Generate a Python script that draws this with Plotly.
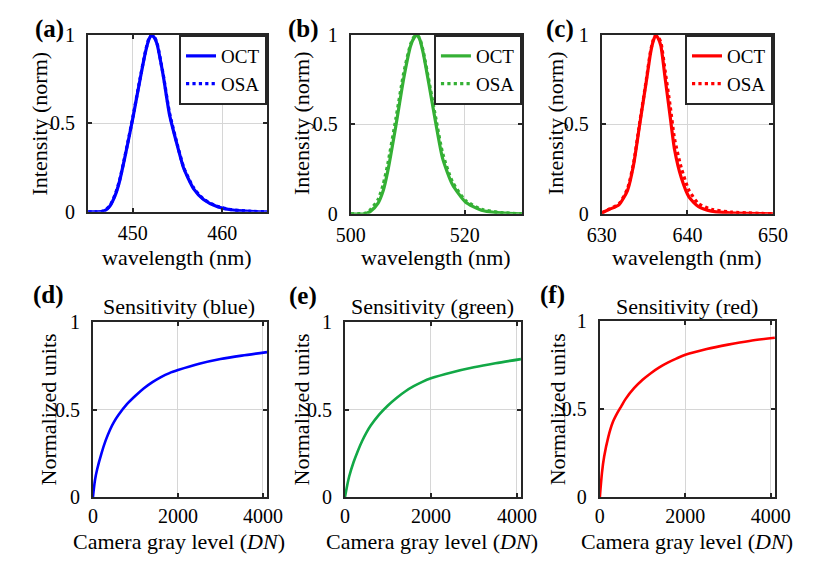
import plotly.graph_objects as go

# ---------------- data ----------------
# Emission spectra (normalized intensity vs wavelength in nm)
blue_nm = [445, 446, 446.8, 447.4, 448.0, 448.5, 449.2, 450.0, 450.7, 451.4, 451.8,
           452.1, 452.4, 452.7, 453.4, 454.1, 455.0, 455.7, 456.8, 457.9, 459.4,
           460.8, 463.0, 465]
blue_oct = [0, 0, 0.005, 0.03, 0.09, 0.17, 0.33, 0.53, 0.72, 0.9, 0.975,
            1.0, 0.985, 0.95, 0.77, 0.55, 0.37, 0.245, 0.13, 0.07, 0.03,
            0.013, 0.003, 0]
blue_osa = [0, 0, 0.006, 0.032, 0.095, 0.175, 0.335, 0.535, 0.725, 0.905, 0.98,
            1.0, 0.99, 0.955, 0.775, 0.56, 0.375, 0.25, 0.135, 0.072, 0.032,
            0.014, 0.004, 0]

green_nm = [500, 502.5, 503.5, 504.8, 505.7, 506.5, 507.9, 509.3, 510.5, 511.1,
            511.6, 512.1, 512.7, 513.9, 515.0, 516.1, 517.8, 520.1, 522.9, 526.3, 530]
green_oct = [0, 0, 0.015, 0.06, 0.13, 0.24, 0.49, 0.76, 0.94, 0.985,
             1.0, 0.975, 0.9, 0.69, 0.49, 0.31, 0.165, 0.066, 0.02, 0.005, 0]
green_osa = [0, 0.003, 0.025, 0.08, 0.165, 0.28, 0.53, 0.79, 0.95, 0.99,
             1.0, 0.98, 0.91, 0.71, 0.52, 0.34, 0.18, 0.075, 0.025, 0.007, 0]

red_nm = [630, 630.9, 632.0, 633.0, 633.7, 634.4, 635.2, 635.7, 636.0, 636.3, 636.6,
          636.9, 637.4, 638.0, 638.5, 639.3, 640.2, 641.3, 642.8, 645, 650]
red_oct = [0.005, 0.025, 0.05, 0.13, 0.27, 0.49, 0.74, 0.9, 0.965, 1.0, 0.98,
           0.94, 0.76, 0.54, 0.36, 0.2, 0.093, 0.04, 0.015, 0.005, 0]
red_osa = [0.005, 0.027, 0.055, 0.14, 0.28, 0.5, 0.75, 0.91, 0.97, 1.0, 0.99,
           0.96, 0.8, 0.6, 0.42, 0.255, 0.13, 0.057, 0.025, 0.01, 0]

# Sensitivity curves (normalized units vs camera gray level in DN)
dn_levels = [0, 50, 100, 200, 300, 400, 500, 600, 800, 1000, 1200, 1400, 1600,
             1800, 2000, 2500, 3000, 3500, 4095]
sens_blue = [0, 0.1, 0.16, 0.25, 0.325, 0.385, 0.432, 0.47, 0.532, 0.58, 0.623,
             0.658, 0.687, 0.71, 0.727, 0.763, 0.79, 0.81, 0.83]
sens_green = [0, 0.065, 0.12, 0.2, 0.265, 0.322, 0.37, 0.41, 0.474, 0.525, 0.568,
              0.605, 0.635, 0.66, 0.68, 0.715, 0.743, 0.766, 0.79]
sens_red = [0, 0.14, 0.23, 0.345, 0.425, 0.475, 0.517, 0.558, 0.62, 0.668, 0.707,
            0.74, 0.767, 0.79, 0.81, 0.843, 0.868, 0.889, 0.907]

# axis ranges and ticks
spec_ranges = [[445, 465], [500, 530], [630, 650]]
spec_ticks = [[450, 460], [500, 520], [630, 640, 650]]
dn_range = [0, 4095]
dn_ticks = [0, 2000, 4000]
y_ticks = [0, 0.5, 1]
y_ticktext = ["0", "0.5", "1"]

panel_tags = ["(a)", "(b)", "(c)", "(d)", "(e)", "(f)"]
sens_titles = ["Sensitivity (blue)", "Sensitivity (green)", "Sensitivity (red)"]

# ---------------- styling ----------------
W, H = 814, 564
FONT = "Liberation Serif"
FS = 22        # axis titles
FS_TICK = 20   # tick labels
BLUE = "#0000ff"
GREEN_SPEC = "#35b035"
GREEN_SENS = "#12a846"
RED = "#ff0000"
AXIS_COLOR = "#262626"
GRID_COLOR = "#d6d6d6"

# plot-area boxes in pixels: left, right, top, bottom
boxes = [
    (76, 262, 25, 209),
    (349, 527, 25, 211),
    (610, 788, 25, 211),
    (81, 262, 324, 506),
    (343, 526, 324, 506),
    (608, 790, 323, 506),
]


def px_x(v):
    return v / W


def px_y(v):
    return 1 - v / H


fig = go.Figure()

spec_sets = [
    (blue_nm, blue_oct, blue_osa, BLUE),
    (green_nm, green_oct, green_osa, GREEN_SPEC),
    (red_nm, red_oct, red_osa, RED),
]
for i, (wl, oct_v, osa_v, col) in enumerate(spec_sets):
    ax = "" if i == 0 else str(i + 1)
    leg = "legend" if i == 0 else f"legend{i + 1}"
    fig.add_trace(go.Scatter(
        x=wl, y=oct_v, mode="lines", name="OCT",
        line=dict(color=col, width=3.2, shape="spline", smoothing=0.6),
        xaxis="x" + ax, yaxis="y" + ax, legend=leg))
    fig.add_trace(go.Scatter(
        x=wl, y=osa_v, mode="lines", name="OSA",
        line=dict(color=col, width=3.2, dash="dot", shape="spline", smoothing=0.6),
        xaxis="x" + ax, yaxis="y" + ax, legend=leg))

sens_sets = [(sens_blue, BLUE), (sens_green, GREEN_SENS), (sens_red, RED)]
for j, (s, col) in enumerate(sens_sets):
    k = j + 4
    fig.add_trace(go.Scatter(
        x=dn_levels, y=s, mode="lines", showlegend=False,
        line=dict(color=col, width=2.6, shape="spline", smoothing=0.8),
        xaxis=f"x{k}", yaxis=f"y{k}"))

axis_common = dict(
    showline=True, linecolor=AXIS_COLOR, linewidth=2, mirror="ticks",
    ticks="inside", ticklen=4, tickwidth=1.5, tickcolor=AXIS_COLOR,
    showgrid=True, gridcolor=GRID_COLOR, gridwidth=1, zeroline=False,
    tickfont=dict(family=FONT, size=FS_TICK, color="black"),
    fixedrange=True,
)

layout = dict(
    width=W, height=H,
    margin=dict(l=0, r=0, t=0, b=0),
    paper_bgcolor="white", plot_bgcolor="white",
    font=dict(family=FONT, size=FS, color="black"),
    annotations=[],
)

for n, (l, r, t, b) in enumerate(boxes):
    k = "" if n == 0 else str(n + 1)
    if n < 3:
        xr, xt, sx = spec_ranges[n], spec_ticks[n], 2
    else:
        xr, xt, sx = dn_range, dn_ticks, 0
    layout["xaxis" + k] = dict(
        axis_common, domain=[px_x(l), px_x(r)], range=xr, tickvals=xt,
        anchor="y" + k, ticklabelstandoff=sx)
    layout["yaxis" + k] = dict(
        axis_common, domain=[px_y(b), px_y(t)], range=[0, 1],
        tickvals=y_ticks, ticktext=y_ticktext, anchor="x" + k,
        ticklabelstandoff=7)

# legends in the top-right corner of each spectrum panel
for n in range(3):
    l, r, t, b = boxes[n]
    key = "legend" if n == 0 else f"legend{n + 1}"
    layout[key] = dict(
        x=px_x(r), y=px_y(t), xanchor="right", yanchor="top",
        bgcolor="white", bordercolor=AXIS_COLOR, borderwidth=2,
        font=dict(family=FONT, size=19, color="black"),
        tracegroupgap=0,
    )

ann = layout["annotations"]


def text_at(txt, x, y, size=FS, angle=0, **kw):
    ann.append(dict(
        text=txt, x=px_x(x), y=px_y(y), xref="paper", yref="paper",
        xanchor="center", yanchor="middle", showarrow=False, textangle=angle,
        font=dict(family=FONT, size=size, color="black"), **kw))


# panel tags
tag_pos = [(36, 19), (300, 19), (567, 19), (35, 296), (299, 297), (559, 296)]
for tag, (x, y) in zip(panel_tags, tag_pos):
    text_at(f"<b>{tag}</b>", x, y, size=25)

# spectrum axis titles
for n, (yx, xx, xy) in enumerate([(25, 168, 257), (298, 438, 257), (562, 699, 256)]):
    text_at("Intensity (norm)", yx, 117, angle=-90)
    text_at("wavelength (nm)", xx, xy)

# sensitivity axis titles and panel titles
for j, (yx, xx) in enumerate([(35, 170), (298, 434), (564, 699)]):
    text_at("Normalized units", yx, 415, angle=-90)
    text_at("Camera gray level (<i>DN</i>)", xx, 552)
    text_at(sens_titles[j], xx, 308)

fig.update_layout(**layout)
fig.write_html("out.html")
